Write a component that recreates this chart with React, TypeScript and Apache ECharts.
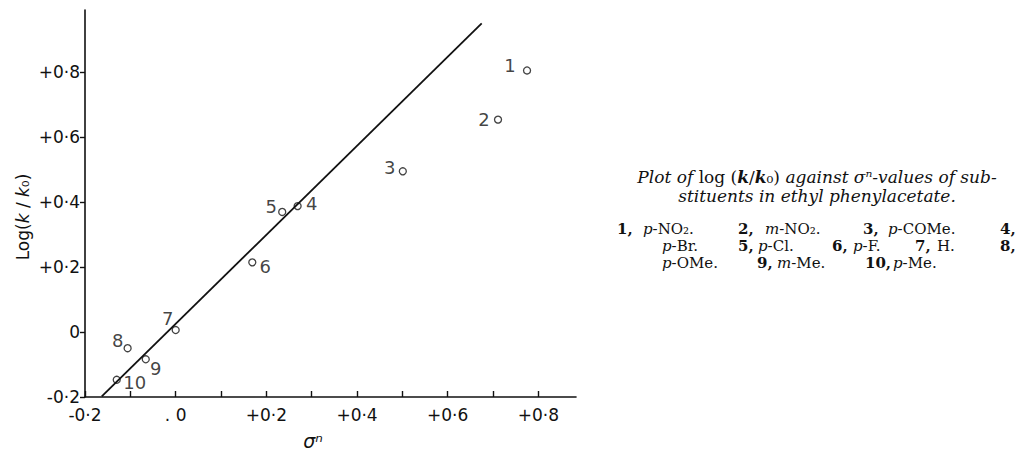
import React, { useEffect, useRef } from "react";
import * as echarts from "echarts";

// ---- data ----
const pointIds = ["1", "2", "3", "4", "5", "6", "7", "8", "9", "10"];
const sigmaN = [0.775, 0.711, 0.501, 0.269, 0.235, 0.169, 0.0, -0.106, -0.066, -0.13];
const logKK0 = [0.804, 0.653, 0.494, 0.387, 0.369, 0.214, 0.006, -0.05, -0.084, -0.147];
const fitSigma = [-0.163, 0.675];
const fitLog = [-0.198, 0.949];

const xTickValues = [-0.2, -0.1, 0, 0.1, 0.2, 0.3, 0.4, 0.5, 0.6, 0.7, 0.8];
const xLabelValues = [-0.2, 0, 0.2, 0.4, 0.6, 0.8];
const xLabelTexts = ["-0·2", ". 0", "+0·2", "+0·4", "+0·6", "+0·8"];
const yTickValues = [-0.2, 0, 0.2, 0.4, 0.6, 0.8];
const yLabelTexts = ["-0·2", "0", "+0·2", "+0·4", "+0·6", "+0·8"];

const captionLine1 = "{i|Plot of} log ({ki|k}/{ki|k}₀) {i|against σⁿ-values of sub-}";
const captionLine2 = "stituents in ethyl phenylacetate.";
const legendNumbers = ["1,", "2,", "3,", "4,", "5,", "6,", "7,", "8,", "9,", "10,"];
const legendSubstituents = [
  "{i|p}-NO₂.",
  "{i|m}-NO₂.",
  "{i|p}-COMe.",
  "{i|p}-Br.",
  "{i|p}-Cl.",
  "{i|p}-F.",
  "H.",
  "{i|p}-OMe.",
  "{i|m}-Me.",
  "{i|p}-Me.",
];

// layout (not data)
const labelOffsets: number[][] = [
  [-17, -5], [-14, 0], [-13, -4], [14, -3], [-11, -5],
  [13, 4], [-8, -12], [-10, -8], [10, 9], [18, 3],
];
// [x of number, x of substituent, line]
const legendLayout: number[][] = [
  [617, 643, 0], [738, 765, 0], [863, 888, 0], [1000, 662, 0],
  [738, 758, 1], [832, 853, 1], [915, 937, 1], [1000, 662, 1],
  [757, 777, 2], [865, 893, 2],
];
const legendLineY = [229, 246, 263];

const lookup = (vals: number[], texts: string[], v: number) => {
  for (let i = 0; i < vals.length; i++) if (Math.abs(vals[i] - v) < 1e-6) return texts[i];
  return "";
};

export default function App() {
  const ref = useRef<HTMLDivElement>(null);
  useEffect(() => {
    if (!ref.current) return;
    const chart = echarts.init(ref.current, undefined, { renderer: "svg" });
    const ink = "#111";
    const serif = "DejaVu Serif";
    const sans = "DejaVu Sans";

    const graphic: any[] = [];
    graphic.push({
      type: "text",
      x: 23,
      y: 217,
      rotation: Math.PI / 2,
      style: {
        text: "Log({i|k} / {i|k}₀)",
        fontFamily: sans,
        fontSize: 17,
        fill: ink,
        align: "center",
        verticalAlign: "middle",
        rich: { i: { fontStyle: "italic", fontFamily: sans, fontSize: 17, fill: ink } },
      },
    });
    graphic.push({
      type: "text",
      x: 313,
      y: 441,
      style: {
        text: "σⁿ",
        fontFamily: sans,
        fontSize: 19,
        fontStyle: "italic",
        fill: ink,
        align: "center",
        verticalAlign: "middle",
      },
    });
    graphic.push({
      type: "text",
      x: 817,
      y: 177,
      style: {
        text: captionLine1,
        fontFamily: serif,
        fontSize: 17,
        lineHeight: 16,
        fill: ink,
        align: "center",
        verticalAlign: "middle",
        rich: {
          i: { fontStyle: "italic", fontFamily: serif, fontSize: 17, lineHeight: 16, fill: ink },
          ki: {
            fontStyle: "italic",
            fontWeight: "bold",
            fontFamily: serif,
            fontSize: 17,
            lineHeight: 16,
            fill: ink,
          },
        },
      },
    });
    graphic.push({
      type: "text",
      x: 817,
      y: 196,
      style: {
        text: captionLine2,
        fontFamily: serif,
        fontSize: 17,
        lineHeight: 16,
        fontStyle: "italic",
        fill: ink,
        align: "center",
        verticalAlign: "middle",
      },
    });
    legendNumbers.forEach((num, i) => {
      const [nx, sx, line] = legendLayout[i];
      const subLine = i === 3 || i === 7 ? line + 1 : line;
      graphic.push({
        type: "text",
        x: nx,
        y: legendLineY[line],
        style: {
          text: num,
          fontFamily: serif,
          fontSize: 15,
          lineHeight: 15,
          fontWeight: "bold",
          fill: ink,
          align: "left",
          verticalAlign: "middle",
        },
      });
      graphic.push({
        type: "text",
        x: sx,
        y: legendLineY[subLine],
        style: {
          text: legendSubstituents[i],
          fontFamily: serif,
          fontSize: 15,
          lineHeight: 15,
          fill: ink,
          align: "left",
          verticalAlign: "middle",
          rich: {
            i: { fontStyle: "italic", fontFamily: serif, fontSize: 15, lineHeight: 15, fill: ink },
          },
        },
      });
    });

    chart.setOption({
      animation: false,
      backgroundColor: "#fff",
      grid: { left: 85, top: 10, width: 491, height: 387 },
      xAxis: {
        type: "value",
        min: -0.2,
        max: 0.883,
        splitLine: { show: false },
        axisLine: { onZero: false, lineStyle: { color: ink, width: 1.6 } },
        axisTick: {
          inside: true,
          length: 6,
          customValues: xTickValues,
          lineStyle: { color: ink, width: 1.4 },
        },
        axisLabel: {
          customValues: xLabelValues,
          formatter: (v: number) => lookup(xLabelValues, xLabelTexts, v),
          fontFamily: sans,
          fontSize: 17,
          color: ink,
          margin: 9,
        },
      },
      yAxis: {
        type: "value",
        min: -0.2,
        max: 0.99,
        splitLine: { show: false },
        axisLine: { onZero: false, lineStyle: { color: ink, width: 1.6 } },
        axisTick: {
          length: 5,
          customValues: yTickValues,
          lineStyle: { color: ink, width: 1.4 },
        },
        axisLabel: {
          customValues: yTickValues,
          formatter: (v: number) => lookup(yTickValues, yLabelTexts, v),
          fontFamily: sans,
          fontSize: 17,
          color: ink,
          margin: 5,
        },
      },
      series: [
        {
          type: "line",
          data: fitSigma.map((x, i) => [x, fitLog[i]]),
          showSymbol: false,
          lineStyle: { color: ink, width: 1.8 },
          z: 3,
        },
        {
          type: "scatter",
          symbol: "circle",
          symbolSize: 7,
          itemStyle: { color: "rgba(255,255,255,0)", borderColor: ink, borderWidth: 1.3 },
          data: sigmaN.map((x, i) => ({
            value: [x, logKK0[i]],
            name: pointIds[i],
            label: { offset: labelOffsets[i] },
          })),
          label: {
            show: true,
            position: "inside",
            formatter: "{b}",
            fontFamily: sans,
            fontSize: 18,
            color: ink,
          },
          z: 4,
        },
      ],
      graphic,
    });
    return () => chart.dispose();
  }, []);
  return (
    <div
      ref={ref}
      style={{ position: "fixed", left: 0, top: 0, width: 1021, height: 452, background: "#fff" }}
    />
  );
}
